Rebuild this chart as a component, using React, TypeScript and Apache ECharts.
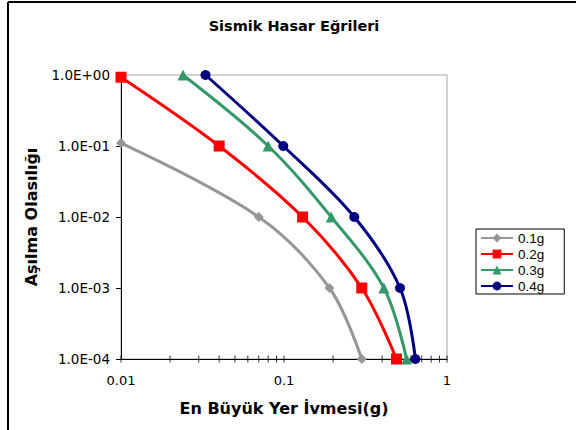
import React, { useEffect, useRef } from "react";
import * as echarts from "echarts";

// Peak ground acceleration (g) and exceedance probability for each scenario
const pga01X = [0.01, 0.07, 0.19, 0.3];
const pga01Y = [0.11, 0.01, 0.001, 0.0001];
const pga02X = [0.01, 0.04, 0.13, 0.3, 0.49];
const pga02Y = [0.93, 0.1, 0.01, 0.001, 0.0001];
const pga03X = [0.024, 0.08, 0.195, 0.41, 0.565];
const pga03Y = [1, 0.1, 0.01, 0.001, 0.0001];
const pga04X = [0.033, 0.099, 0.27, 0.515, 0.64];
const pga04Y = [1, 0.1, 0.01, 0.001, 0.0001];

const seriesNames = ["0.1g", "0.2g", "0.3g", "0.4g"];

// Log-axis tick positions along the x axis (majors and minors)
const xTickValues = [
  0.01, 0.02, 0.03, 0.04, 0.05, 0.06, 0.07, 0.08, 0.09,
  0.1, 0.2, 0.3, 0.4, 0.5, 0.6, 0.7, 0.8, 0.9, 1,
];

const SANS = "'Liberation Sans', Arial, sans-serif";
const WIDE = "'DejaVu Sans', Verdana, sans-serif";

const zip = (xs: number[], ys: number[]) => xs.map((x, i) => [x, ys[i]]);

const fmtExp = (v: number) => {
  const e = Math.round(Math.log10(v));
  return "1.0E" + (e >= 0 ? "+" : "-") + String(Math.abs(e)).padStart(2, "0");
};

export default function App() {
  const ref = useRef<HTMLDivElement>(null);

  useEffect(() => {
    if (!ref.current) return;
    const chart = echarts.init(ref.current, null, { renderer: "svg" });

    const lineSeries = (
      name: string,
      data: number[][],
      color: string,
      symbol: string,
      symbolSize: number
    ) => ({
      name,
      type: "line",
      data,
      smooth: 0.35,
      symbol,
      symbolSize,
      showAllSymbol: true,
      clip: false,
      lineStyle: { color, width: 3 },
      itemStyle: { color },
      z: 3,
    });

    chart.setOption({
      animation: false,
      backgroundColor: "#ffffff",
      textStyle: { fontFamily: SANS },
      title: {
        text: "Sismik Hasar Eğrileri",
        left: 289,
        top: 13,
        textAlign: "center",
        textStyle: { fontFamily: WIDE, fontSize: 14.5, fontWeight: "bold", color: "#000" },
      },
      grid: {
        left: 121,
        right: 129,
        top: 75,
        bottom: 71,
        show: true,
        borderColor: "#a6a6a6",
        borderWidth: 1,
        backgroundColor: "transparent",
      },
      legend: {
        orient: "vertical",
        left: 476,
        top: 229,
        data: seriesNames,
        itemWidth: 32,
        itemHeight: 11,
        itemGap: 2,
        padding: [2, 20, 1, 4],
        borderColor: "#000",
        borderWidth: 1,
        backgroundColor: "#fff",
        textStyle: { fontFamily: SANS, fontSize: 13.5, lineHeight: 11, color: "#000" },
      },
      xAxis: {
        type: "log",
        logBase: 10,
        min: 0.01,
        max: 1,
        name: "En Büyük Yer İvmesi(g)",
        nameLocation: "middle",
        nameGap: 41,
        nameTextStyle: { fontFamily: WIDE, fontSize: 16, fontWeight: "bold", color: "#000" },
        axisLine: { show: true, lineStyle: { color: "#000", width: 1 } },
        axisTick: { show: false },
        splitLine: { show: false },
        axisLabel: {
          fontFamily: WIDE,
          fontSize: 13,
          color: "#000",
          margin: 15,
          formatter: (v: number) => String(Number(v.toPrecision(3))),
        },
      },
      yAxis: {
        type: "log",
        logBase: 10,
        min: 0.0001,
        max: 1,
        name: "Aşılma Olasılığı",
        nameLocation: "middle",
        nameGap: 82,
        nameTextStyle: { fontFamily: WIDE, fontSize: 16, fontWeight: "bold", color: "#000" },
        axisLine: { show: true, lineStyle: { color: "#000", width: 1 } },
        axisTick: { show: true, length: 5, lineStyle: { color: "#000" } },
        splitLine: { show: false },
        axisLabel: {
          fontFamily: WIDE,
          fontSize: 13.5,
          color: "#000",
          margin: 11,
          formatter: fmtExp,
        },
      },
      series: [
        {
          name: "xticks",
          type: "scatter",
          data: xTickValues.map((v) => [v, 0.0001]),
          symbol: "rect",
          symbolSize: [1, 7],
          itemStyle: { color: "#000" },
          silent: true,
          clip: false,
          z: 1,
        },
        lineSeries(seriesNames[0], zip(pga01X, pga01Y), "#969696", "diamond", 10),
        lineSeries(seriesNames[1], zip(pga02X, pga02Y), "#ff0000", "rect", 11),
        lineSeries(seriesNames[2], zip(pga03X, pga03Y), "#339966", "triangle", 11),
        lineSeries(seriesNames[3], zip(pga04X, pga04Y), "#000080", "circle", 10),
      ],
      graphic: [
        {
          type: "line",
          shape: { x1: 8, y1: 2, x2: 8, y2: 430 },
          style: { stroke: "#000", lineWidth: 2 },
          silent: true,
        },
        {
          type: "line",
          shape: { x1: 8, y1: 2, x2: 576, y2: 2 },
          style: { stroke: "#000", lineWidth: 2 },
          silent: true,
        },
      ],
    });

    return () => chart.dispose();
  }, []);

  return (
    <div
      ref={ref}
      style={{ position: "fixed", left: 0, top: 0, width: 576, height: 430 }}
    />
  );
}
